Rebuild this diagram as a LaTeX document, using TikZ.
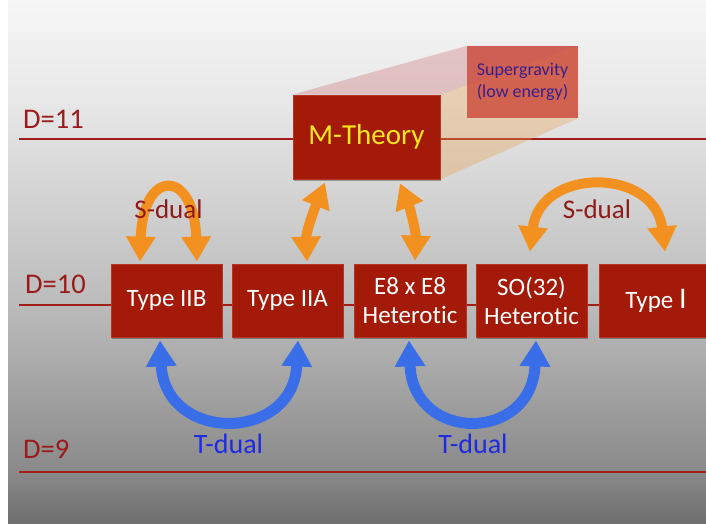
\documentclass[tikz,border=0pt]{standalone}
\usepackage{fontspec}
\setmainfont[Ligatures=NoCommon]{Carlito}
\usetikzlibrary{arrows.meta,shadows}
\definecolor{bg0}{HTML}{6E6E6E}
\definecolor{bg1}{HTML}{8A8A8A}
\definecolor{bg2}{HTML}{A8A8A8}
\definecolor{bg3}{HTML}{BCBCBC}
\definecolor{bg4}{HTML}{D9D9D9}
\definecolor{bg5}{HTML}{E8E8E8}
\definecolor{bg6}{HTML}{F6F6F6}
\definecolor{boxred}{HTML}{A31A08}
\definecolor{boxedge}{HTML}{B83422}
\definecolor{lvl}{HTML}{A21E18}
\definecolor{dred}{HTML}{9B1B1B}
\definecolor{sred}{HTML}{8E1A1A}
\definecolor{tblue}{HTML}{1E2BE0}
\definecolor{orA}{HTML}{F29120}
\definecolor{blA}{HTML}{3A6EE8}
\definecolor{myel}{HTML}{F5E61E}
\definecolor{sgtext}{HTML}{3B1E8C}
\definecolor{sgfill}{HTML}{C8392A}
\definecolor{facetop}{HTML}{C86060}
\definecolor{faceright}{HTML}{E8A050}
\pgfdeclareverticalshading{bgshade}{100bp}{color(0bp)=(bg0); color(25bp)=(bg0); color(30bp)=(bg1); color(39.6bp)=(bg2); color(46.3bp)=(bg3); color(58.75bp)=(bg4); color(65.4bp)=(bg5); color(75bp)=(bg6); color(100bp)=(bg6)}
\pgfdeclarelayer{back}
\pgfdeclarelayer{mid}
\pgfsetlayers{back,mid,main}
\begin{document}
\begin{tikzpicture}[x=1pt,y=-1pt,
  tbox/.style={draw=boxedge, line width=0.8pt, fill=boxred, text=white,
    minimum width=111pt, minimum height=73pt, inner sep=0pt, align=center,
    font=\fontsize{25}{29}\selectfont,
    drop shadow={shadow xshift=1pt, shadow yshift=-2pt, opacity=0.3, fill=black}},
  dlab/.style={anchor=west, text=dred, font=\fontsize{28.5}{30}\selectfont, inner sep=0pt},
  slab/.style={text=sred, font=\fontsize{27}{30}\selectfont, inner sep=0pt},
  tlab/.style={text=tblue, font=\fontsize{28}{30}\selectfont, inner sep=0pt},
  level/.style={draw=lvl, line width=2.3pt},
  oarrow/.style={draw=orA, line width=10pt,
    {Triangle[width=28pt,length=25pt]}-{Triangle[width=28pt,length=25pt]}},
  barrow/.style={draw=blA, line width=11pt,
    {Triangle[width=29pt,length=26pt]}-{Triangle[width=29pt,length=26pt]}}
]
\useasboundingbox (0,0) rectangle (706,523);
\begin{pgfonlayer}{back}
  \fill[white] (0,0) rectangle (706,523);
  \shade[shading=bgshade] (8,0) rectangle (706,523);
  \draw[level] (19,139) -- (706,139);
  \draw[level] (19,305) -- (706,305);
  \draw[level] (19,472) -- (706,472);
\end{pgfonlayer}

% boxes
\node[tbox, minimum width=147pt, minimum height=84pt, text=myel,
  font=\fontsize{29}{32}\selectfont] (M) at (366.5,137) {\raisebox{-2pt}{M-Theory}};
\node[draw=none, fill=sgfill, fill opacity=0.72, text opacity=1, text=sgtext,
  minimum width=111pt, minimum height=72pt, inner sep=0pt, align=center,
  font=\fontsize{18}{22}\selectfont] (SG) at (522.5,82) {Supergravity\\(low energy)};

\begin{pgfonlayer}{mid}
  \fill[facetop, opacity=0.3] (M.north west) -- (SG.north west) -- (SG.north east) -- (M.north east) -- cycle;
  \fill[faceright, opacity=0.35] (M.north east) -- (SG.north east) -- (SG.south east) -- (M.south east) -- cycle;
\end{pgfonlayer}

\node[tbox] (IIB) at (166.5,300.5) {\raisebox{-3pt}{Type IIB}};
\node[tbox] (IIA) at (287.5,300.5) {\raisebox{-3pt}{Type IIA}};
\node[tbox, minimum width=112pt] (E8) at (410,300.5) {E8 x E8\\Heterotic};
\node[tbox] (SO) at (531.5,300.5) {SO(32)\\Heterotic};
\node[tbox, minimum width=114pt] (TI) at (656,300.5) {\raisebox{-3pt}{Type {\fontsize{30}{30}\selectfont I}}};

% labels
\node[dlab] (d11) at (23,119) {D=11};
\node[dlab] (d10) at (25,284) {D=10};
\node[dlab] (d9) at (23,449) {D=9};

% orange arrows
\draw[oarrow] ([xshift=-26.5pt,yshift=2pt]IIB.north) .. controls (143,168) and (194,168) .. ([xshift=30.5pt,yshift=2pt]IIB.north);
\draw[oarrow] ([xshift=-1.5pt,yshift=12pt]SO.north) .. controls (540,167) and (655,167) .. ([xshift=9pt,yshift=12pt]TI.north);
\draw[oarrow] ([xshift=-41.5pt,yshift=-3pt]M.south) .. controls (314,210) and (306,232) .. ([xshift=19.5pt,yshift=2pt]IIA.north);
\draw[oarrow] ([xshift=33.5pt,yshift=-4pt]M.south) .. controls (410,208) and (416,232) .. ([xshift=5pt,yshift=3pt]E8.north);

% blue arrows
\draw[barrow] ([xshift=-6.5pt,yshift=-3pt]IIB.south) .. controls (165,443) and (293,443) .. ([xshift=10.5pt,yshift=-3pt]IIA.south);
\draw[barrow] ([xshift=-1pt,yshift=-3pt]E8.south) .. controls (413,443) and (532,443) .. ([xshift=4.5pt,yshift=-3pt]SO.south);

\node[slab] (sdl) at (168.5,209) {S-dual};
\node[slab] (sdr) at (597,209) {S-dual};
\node[tlab] (tdl) at (228.5,444) {T-dual};
\node[tlab] (tdr) at (473,444) {T-dual};
\end{tikzpicture}
\end{document}
